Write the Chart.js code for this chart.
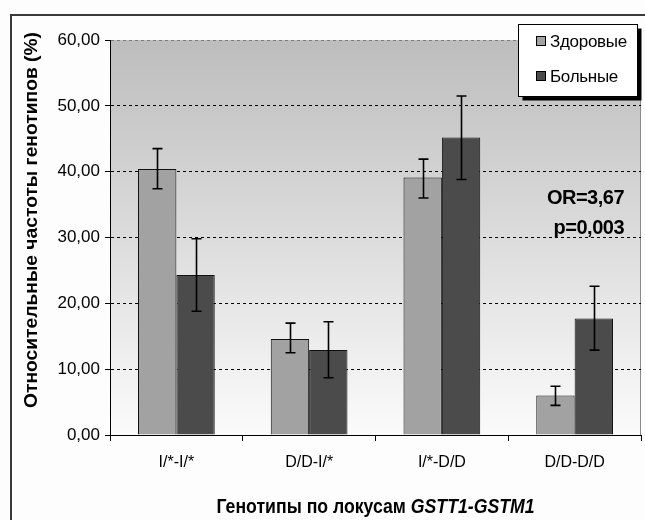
<!DOCTYPE html>
<html>
<head>
<meta charset="utf-8">
<script src="https://cdn.jsdelivr.net/npm/chart.js@4.4.1/dist/chart.umd.min.js"></script>
<style>
  html, body { margin: 0; padding: 0; background: #fff; }
</style>
</head>
<body>
<canvas id="chart" width="645" height="520"></canvas>
<script>
const genotypes = ["I/*-I/*", "D/D-I/*", "I/*-D/D", "D/D-D/D"];
const seriesNames = ["Здоровые", "Больные"];

const healthy = [40.4, 14.6, 39.1, 6.0];
const healthyLow = [37.4, 12.5, 36.0, 4.5];
const healthyHigh = [43.5, 17.0, 41.9, 7.4];

const sick = [24.3, 12.9, 45.2, 17.7];
const sickLow = [18.8, 8.7, 38.8, 12.9];
const sickHigh = [29.8, 17.2, 51.5, 22.6];

const yTickLabels = ["0,00", "10,00", "20,00", "30,00", "40,00", "50,00", "60,00"];
const yTitle = "Относительные частоты генотипов (%)";
const xTitle = ["Генотипы по локусам ", "GSTT1-GSTM1"];
const statText = ["OR=3,67", "p=0,003"];

const FONT = '"Liberation Sans", Arial, sans-serif';
Chart.defaults.font.family = FONT;
Chart.defaults.color = "#000";

// background gradient + outer frame
const backdrop = {
  id: "backdrop",
  beforeDraw(chart) {
    const { ctx, chartArea: a } = chart;
    ctx.save();
    ctx.fillStyle = "#fdfdfd";
    ctx.fillRect(0, 0, chart.width, chart.height);
    ctx.strokeStyle = "#3a3a3a";
    ctx.lineWidth = 2;
    ctx.strokeRect(11, 15, 900, 800);
    const g = ctx.createLinearGradient(0, a.top, 0, a.bottom);
    g.addColorStop(0, "#bdbdbd");
    g.addColorStop(1, "#fbfbfb");
    ctx.fillStyle = g;
    ctx.fillRect(a.left, a.top, a.right - a.left, a.bottom - a.top);
    ctx.strokeStyle = "#8a8a8a";
    ctx.lineWidth = 1;
    ctx.beginPath();
    ctx.moveTo(a.right - 0.5, a.top);
    ctx.lineTo(a.right - 0.5, a.bottom);
    ctx.stroke();
    ctx.restore();
  },
};

const errorBars = {
  id: "errorBars",
  afterDatasetsDraw(chart) {
    const { ctx } = chart;
    const y = chart.scales.y;
    ctx.save();
    ctx.strokeStyle = "#000";
    ctx.lineWidth = 1.6;
    chart.data.datasets.forEach((ds, i) => {
      chart.getDatasetMeta(i).data.forEach((bar, j) => {
        const top = y.getPixelForValue(ds.errHigh[j]);
        const bot = y.getPixelForValue(ds.errLow[j]);
        const x = Math.round(bar.x) + 0.5;
        ctx.beginPath();
        ctx.moveTo(x, top);
        ctx.lineTo(x, bot);
        ctx.moveTo(x - 5, top);
        ctx.lineTo(x + 5, top);
        ctx.moveTo(x - 5, bot);
        ctx.lineTo(x + 5, bot);
        ctx.stroke();
      });
    });
    ctx.restore();
  },
};

const labels = {
  id: "labels",
  afterDraw(chart) {
    const { ctx, chartArea: a } = chart;
    ctx.save();
    ctx.fillStyle = "#000";

    // y title
    ctx.font = "bold 18px " + FONT;
    let w = ctx.measureText(yTitle).width;
    ctx.save();
    ctx.translate(36.5, 220);
    ctx.rotate(-Math.PI / 2);
    ctx.scale(376 / w, 1);
    ctx.textAlign = "center";
    ctx.fillText(yTitle, 0, 0);
    ctx.restore();

    // x title, second part italic
    ctx.font = "bold 20px " + FONT;
    const w1 = ctx.measureText(xTitle[0]).width;
    ctx.font = "italic bold 20px " + FONT;
    const w2 = ctx.measureText(xTitle[1]).width;
    const k = 318 / (w1 + w2);
    ctx.save();
    ctx.translate((a.left + a.right) / 2 - 159, 513);
    ctx.scale(k, 1);
    ctx.font = "bold 20px " + FONT;
    ctx.fillText(xTitle[0], 0, 0);
    ctx.font = "italic bold 20px " + FONT;
    ctx.fillText(xTitle[1], w1, 0);
    ctx.restore();

    // OR / p
    ctx.font = "bold 20px " + FONT;
    ctx.textAlign = "right";
    ctx.letterSpacing = "-0.5px";
    ctx.fillText(statText[0], a.right - 17, 203.5);
    ctx.fillText(statText[1], a.right - 17, 233.5);
    ctx.letterSpacing = "0px";

    // legend with shadow
    const lx = 518.5, ly = 24.5, lw = 119, lh = 72;
    ctx.fillStyle = "#000";
    ctx.fillRect(lx + 4, ly + 4, lw, lh);
    ctx.fillStyle = "#fff";
    ctx.fillRect(lx, ly, lw, lh);
    ctx.strokeStyle = "#000";
    ctx.lineWidth = 1;
    ctx.strokeRect(lx, ly, lw, lh);
    ctx.textAlign = "left";
    ctx.font = "17px " + FONT;
    ctx.letterSpacing = "-0.3px";
    chart.data.datasets.forEach((ds, i) => {
      const sy = 36.5 + i * 35;
      ctx.fillStyle = ds.backgroundColor;
      ctx.fillRect(536.5, sy, 9, 9);
      ctx.strokeRect(536.5, sy, 9, 9);
      ctx.fillStyle = "#000";
      ctx.fillText(ds.label, 550, 46.5 + i * 35);
    });
    ctx.restore();
  },
};

new Chart(document.getElementById("chart"), {
  type: "bar",
  data: {
    labels: genotypes,
    datasets: [
      {
        label: seriesNames[0],
        data: healthy,
        errLow: healthyLow,
        errHigh: healthyHigh,
        backgroundColor: "#a2a2a2",
        borderColor: "#111",
        borderWidth: 1,
      },
      {
        label: seriesNames[1],
        data: sick,
        errLow: sickLow,
        errHigh: sickHigh,
        backgroundColor: "#4b4b4b",
        borderColor: "#111",
        borderWidth: 1,
      },
    ],
  },
  options: {
    responsive: false,
    animation: false,
    devicePixelRatio: 1,
    categoryPercentage: 0.578,
    barPercentage: 1,
    layout: { padding: { top: 40, right: 4, left: 0, bottom: 0 } },
    plugins: {
      legend: { display: false },
      tooltip: { enabled: false },
    },
    scales: {
      x: {
        afterFit: (scale) => {
          scale.height = 85;
        },
        grid: {
          offset: true,
          drawOnChartArea: false,
          drawTicks: true,
          tickLength: 6,
          color: "#000",
        },
        border: { display: true, color: "#000", width: 1 },
        ticks: { font: { size: 16 }, padding: 12, color: "#000" },
      },
      y: {
        min: 0,
        max: 60,
        afterFit: (scale) => {
          scale.width = 110;
        },
        ticks: {
          stepSize: 10,
          font: { size: 17 },
          padding: 5,
          color: "#000",
          callback: (v, i) => yTickLabels[i],
        },
        grid: {
          color: (c) =>
            c.tick.value === 60 ? "#7a7a7a" : c.tick.value === 0 ? "rgba(0,0,0,0)" : "#000",
          tickColor: "#000",
          tickLength: 5,
          lineWidth: 1,
          tickBorderDash: [],
        },
        border: { display: true, color: "#000", width: 1, dash: [3, 3] },
      },
    },
  },
  plugins: [backdrop, errorBars, labels],
});
</script>
</body>
</html>
